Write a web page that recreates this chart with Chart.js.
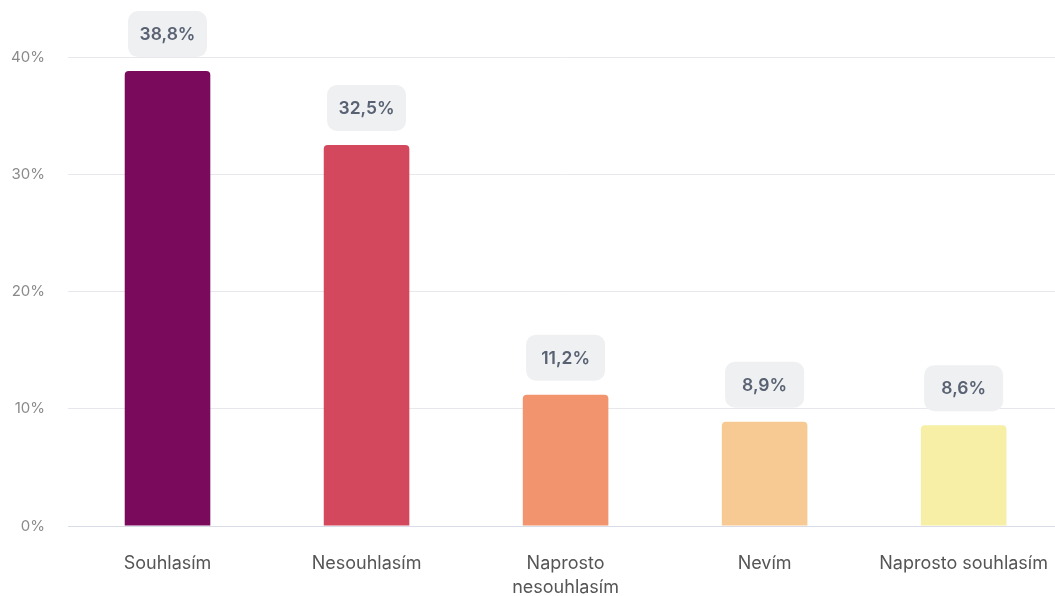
<!DOCTYPE html>
<html>
<head>
<meta charset="utf-8">
<script src="https://cdn.jsdelivr.net/npm/chart.js@4/dist/chart.umd.min.js"></script>
<style>
  html, body { margin: 0; padding: 0; background: #fff; overflow: hidden; }
</style>
</head>
<body>
<canvas id="chart" width="1066" height="596"></canvas>
<script>
const categories = ['Souhlasím', 'Nesouhlasím', ['Naprosto', 'nesouhlasím'], 'Nevím', 'Naprosto souhlasím'];
const values = [38.8, 32.5, 11.2, 8.9, 8.6];
const barColors = ['#7a0b5c', '#d3485c', '#f2956e', '#f7c993', '#f6efa5'];
const yTicks = [0, 10, 20, 30, 40];

// value bubbles above each bar
const valueBoxes = {
  id: 'valueBoxes',
  afterDatasetsDraw(chart) {
    const ctx = chart.ctx;
    const meta = chart.getDatasetMeta(0);
    ctx.save();
    ctx.font = '600 17.5px Inter, sans-serif';
    ctx.textAlign = 'center';
    ctx.textBaseline = 'middle';
    meta.data.forEach((bar, i) => {
      const w = 79, h = 46;
      const x = bar.x - w / 2;
      const y = bar.y - 14 - h;
      ctx.fillStyle = '#eff0f2';
      ctx.beginPath();
      ctx.roundRect(x, y, w, h, 10);
      ctx.fill();
      ctx.fillStyle = '#596273';
      ctx.fillText(values[i].toFixed(1).replace('.', ',') + '%', bar.x, y + h / 2 + 1);
    });
    ctx.restore();
  }
};

new Chart(document.getElementById('chart'), {
  type: 'bar',
  data: {
    labels: categories,
    datasets: [{
      data: values,
      backgroundColor: barColors,
      borderRadius: 4,
      barPercentage: 0.43,
      categoryPercentage: 1,
    }],
  },
  options: {
    responsive: false,
    animation: false,
    layout: { padding: { top: 57 } },
    plugins: {
      legend: { display: false },
      tooltip: { enabled: false },
    },
    scales: {
      x: {
        afterFit: s => { s.height = 70; },
        grid: { display: false },
        border: { color: '#d9dce7', width: 1 },
        ticks: {
          color: '#555555',
          font: { family: 'Inter', size: 18, lineHeight: 1.333 },
          padding: 18,
          maxRotation: 0,
        },
      },
      y: {
        min: 0,
        max: 40,
        afterFit: s => { s.width = 68; },
        afterBuildTicks: s => { s.ticks = yTicks.map(v => ({ value: v })); },
        border: { display: false },
        grid: { color: '#e8e8ec', drawTicks: false },
        ticks: {
          color: '#8a8a8a',
          font: { family: 'Inter', size: 15 },
          padding: 23,
          callback: v => v + '%',
        },
      },
    },
  },
  plugins: [valueBoxes],
});
</script>
</body>
</html>
